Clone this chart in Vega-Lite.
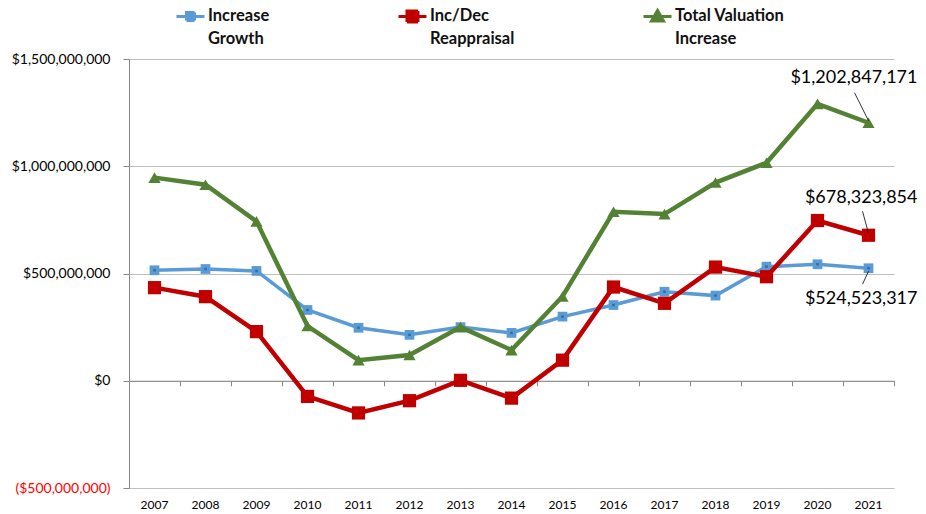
{
  "$schema": "https://vega.github.io/schema/vega-lite/v6.json",
  "width": 765,
  "height": 429,
  "autosize": {"type": "none"},
  "padding": {"left": 129, "top": 59, "right": 32, "bottom": 26},
  "background": "white",
  "config": {"view": {"stroke": null}, "font": "Lato"},
  "datasets": {
    "series": [
      {"year": "2007", "series": "Increase Growth", "value": 515000000},
      {"year": "2008", "series": "Increase Growth", "value": 521000000},
      {"year": "2009", "series": "Increase Growth", "value": 512000000},
      {"year": "2010", "series": "Increase Growth", "value": 330000000},
      {"year": "2011", "series": "Increase Growth", "value": 247000000},
      {"year": "2012", "series": "Increase Growth", "value": 214000000},
      {"year": "2013", "series": "Increase Growth", "value": 250000000},
      {"year": "2014", "series": "Increase Growth", "value": 223000000},
      {"year": "2015", "series": "Increase Growth", "value": 299000000},
      {"year": "2016", "series": "Increase Growth", "value": 353000000},
      {"year": "2017", "series": "Increase Growth", "value": 415000000},
      {"year": "2018", "series": "Increase Growth", "value": 397000000},
      {"year": "2019", "series": "Increase Growth", "value": 532000000},
      {"year": "2020", "series": "Increase Growth", "value": 543000000},
      {"year": "2021", "series": "Increase Growth", "value": 524523317},
      {"year": "2007", "series": "Inc/Dec Reappraisal", "value": 434000000},
      {"year": "2008", "series": "Inc/Dec Reappraisal", "value": 392000000},
      {"year": "2009", "series": "Inc/Dec Reappraisal", "value": 229000000},
      {"year": "2010", "series": "Inc/Dec Reappraisal", "value": -73000000},
      {"year": "2011", "series": "Inc/Dec Reappraisal", "value": -150000000},
      {"year": "2012", "series": "Inc/Dec Reappraisal", "value": -93000000},
      {"year": "2013", "series": "Inc/Dec Reappraisal", "value": 2000000},
      {"year": "2014", "series": "Inc/Dec Reappraisal", "value": -81000000},
      {"year": "2015", "series": "Inc/Dec Reappraisal", "value": 96000000},
      {"year": "2016", "series": "Inc/Dec Reappraisal", "value": 437000000},
      {"year": "2017", "series": "Inc/Dec Reappraisal", "value": 361000000},
      {"year": "2018", "series": "Inc/Dec Reappraisal", "value": 530000000},
      {"year": "2019", "series": "Inc/Dec Reappraisal", "value": 485000000},
      {"year": "2020", "series": "Inc/Dec Reappraisal", "value": 747000000},
      {"year": "2021", "series": "Inc/Dec Reappraisal", "value": 678323854},
      {"year": "2007", "series": "Total Valuation Increase", "value": 947000000},
      {"year": "2008", "series": "Total Valuation Increase", "value": 914000000},
      {"year": "2009", "series": "Total Valuation Increase", "value": 743000000},
      {"year": "2010", "series": "Total Valuation Increase", "value": 255000000},
      {"year": "2011", "series": "Total Valuation Increase", "value": 96000000},
      {"year": "2012", "series": "Total Valuation Increase", "value": 120000000},
      {"year": "2013", "series": "Total Valuation Increase", "value": 250000000},
      {"year": "2014", "series": "Total Valuation Increase", "value": 143000000},
      {"year": "2015", "series": "Total Valuation Increase", "value": 393000000},
      {"year": "2016", "series": "Total Valuation Increase", "value": 788000000},
      {"year": "2017", "series": "Total Valuation Increase", "value": 777000000},
      {"year": "2018", "series": "Total Valuation Increase", "value": 924000000},
      {"year": "2019", "series": "Total Valuation Increase", "value": 1016000000},
      {"year": "2020", "series": "Total Valuation Increase", "value": 1291000000},
      {"year": "2021", "series": "Total Valuation Increase", "value": 1202847171}
    ],
    "notes": [
      {"year": "2021", "series": "Total Valuation Increase", "value": 1202847171, "label": "$1,202,847,171"},
      {"year": "2021", "series": "Inc/Dec Reappraisal", "value": 678323854, "label": "$678,323,854"},
      {"year": "2021", "series": "Increase Growth", "value": 524523317, "label": "$524,523,317"}
    ]
  },
  "data": {"name": "series"},
  "resolve": {"axis": {"x": "independent"}},
  "layer": [
    {
      "transform": [{"filter": "datum.series === 'Increase Growth'"}],
      "mark": {"type": "line", "strokeWidth": 3.5},
      "encoding": {
        "x": {"field": "year", "type": "ordinal", "bandPosition": 0.5,
              "scale": {"type": "band", "paddingInner": 0, "paddingOuter": 0},
              "axis": {"orient": "bottom", "domain": false, "ticks": false, "tickSize": 0, "labelPadding": 11, "labelFontSize": 12, "labelFont": "Lato", "labelColor": "#000000", "labelAngle": 0, "title": null, "grid": false}},
        "y": {"field": "value", "type": "quantitative",
              "scale": {"domain": [-500000000, 1500000000], "nice": false, "zero": false},
              "axis": {"values": [-500000000, 0, 500000000, 1000000000, 1500000000],
                       "labelExpr": "datum.value < 0 ? '($' + format(-datum.value, ',') + ')' : '$' + format(datum.value, ',')",
                       "labelColor": {"condition": {"test": "datum.value < 0", "value": "#ff0000"}, "value": "#000000"},
                       "gridColor": "#bfbfbf", "domainColor": "#878787", "tickColor": "#878787", "tickSize": 6,
                       "labelPadding": 13, "labelFontSize": 14, "labelFont": "Lato", "title": null}},
        "color": {"field": "series", "type": "nominal",
                  "scale": {"domain": ["Increase Growth", "Inc/Dec Reappraisal", "Total Valuation Increase"], "range": ["#5b9bd5", "#c00000", "#548235"]},
                  "legend": {
                    "orient": "none", "legendX": 50, "legendY": -54, "direction": "horizontal", "columns": 3,
                    "columnPadding": 122, "title": null, "symbolSize": 400, "labelOffset": 6,
                    "labelFont": "Lato", "labelFontSize": 16.5, "labelFontWeight": "bold", "labelColor": "#111111", "labelBaseline": "top",
                    "labelExpr": "datum.label === 'Increase Growth' ? ['Increase', 'Growth'] : datum.label === 'Inc/Dec Reappraisal' ? ['Inc/Dec', 'Reappraisal'] : ['Total Valuation', 'Increase']",
                    "encode": {
                      "labels": {"update": {"dy": {"value": -9}, "lineHeight": {"value": 23}}},
                      "symbols": {"update": {
                        "shape": {"signal": "datum.value === 'Total Valuation Increase' ? 'M-1.4,0H1.4M0,-0.6L0.6,0.45L-0.6,0.45Z' : datum.value === 'Inc/Dec Reappraisal' ? 'M-1.4,0H1.4M-0.55,-0.55H0.55V0.55H-0.55Z' : 'M-1.4,0H1.4M-0.4,-0.4H0.4V0.4H-0.4Z'"},
                        "fill": {"signal": "datum.value === 'Total Valuation Increase' ? '#548235' : datum.value === 'Inc/Dec Reappraisal' ? '#c00000' : '#5b9bd5'"},
                        "stroke": {"signal": "datum.value === 'Total Valuation Increase' ? '#548235' : datum.value === 'Inc/Dec Reappraisal' ? '#c00000' : '#5b9bd5'"},
                        "strokeWidth": {"value": 3},
                        "opacity": {"value": 1},
                        "fillOpacity": {"value": 1},
                        "strokeDash": {"value": [1, 0]}
                      }}
                    }
                  }}
      }
    },
    {
      "transform": [{"filter": "datum.series === 'Increase Growth'"}],
      "mark": {"type": "square", "size": 95, "opacity": 1, "filled": true},
      "encoding": {
        "x": {"field": "year", "type": "ordinal", "bandPosition": 0.5, "axis": null},
        "y": {"field": "value", "type": "quantitative", "title": null},
        "color": {"field": "series", "type": "nominal"}
      }
    },
    {
      "transform": [{"filter": "datum.series === 'Increase Growth'"}],
      "mark": {"type": "square", "size": 6, "opacity": 1, "filled": true, "color": "#2f6aa3"},
      "encoding": {
        "x": {"field": "year", "type": "ordinal", "bandPosition": 0.5, "axis": null},
        "y": {"field": "value", "type": "quantitative", "title": null}
      }
    },
    {
      "transform": [{"filter": "datum.series === 'Inc/Dec Reappraisal'"}],
      "mark": {"type": "line", "strokeWidth": 4.5},
      "encoding": {
        "x": {"field": "year", "type": "ordinal", "bandPosition": 0.5,
              "axis": {"orient": "bottom", "offset": -107.25, "labels": false, "domainColor": "#878787", "tickColor": "#878787", "tickSize": 5, "tickBand": "extent", "title": null, "grid": false}},
        "y": {"field": "value", "type": "quantitative", "title": null},
        "color": {"field": "series", "type": "nominal"}
      }
    },
    {
      "transform": [{"filter": "datum.series === 'Inc/Dec Reappraisal'"}],
      "mark": {"type": "square", "size": 175, "opacity": 1, "filled": true},
      "encoding": {
        "x": {"field": "year", "type": "ordinal", "bandPosition": 0.5, "axis": null},
        "y": {"field": "value", "type": "quantitative", "title": null},
        "color": {"field": "series", "type": "nominal"}
      }
    },
    {
      "transform": [{"filter": "datum.series === 'Total Valuation Increase'"}],
      "mark": {"type": "line", "strokeWidth": 4.5},
      "encoding": {
        "x": {"field": "year", "type": "ordinal", "bandPosition": 0.5, "axis": null},
        "y": {"field": "value", "type": "quantitative", "title": null},
        "color": {"field": "series", "type": "nominal"}
      }
    },
    {
      "transform": [{"filter": "datum.series === 'Total Valuation Increase'"}],
      "mark": {"type": "point", "shape": "triangle-up", "size": 150, "opacity": 1, "filled": true},
      "encoding": {
        "x": {"field": "year", "type": "ordinal", "bandPosition": 0.5, "axis": null},
        "y": {"field": "value", "type": "quantitative", "title": null},
        "color": {"field": "series", "type": "nominal"}
      }
    },
    {
      "data": {"name": "notes"},
      "transform": [{"filter": "datum.series === 'Total Valuation Increase'"}],
      "layer": [
        {"mark": {"type": "rule", "color": "#000000", "strokeWidth": 0.8, "xOffset": -14, "yOffset": -30, "x2Offset": 0, "y2Offset": -2},
         "encoding": {"x": {"field": "year", "type": "ordinal", "bandPosition": 0.5, "axis": null}, "x2": {"field": "year"},
                      "y": {"field": "value", "type": "quantitative", "title": null}, "y2": {"field": "value"}}},
        {"mark": {"type": "text", "align": "right", "baseline": "middle", "dx": 49, "dy": -45, "fontSize": 18, "font": "Lato", "color": "#000000"},
         "encoding": {"x": {"field": "year", "type": "ordinal", "bandPosition": 0.5, "axis": null},
                      "y": {"field": "value", "type": "quantitative", "title": null}, "text": {"field": "label"}}}
      ]
    },
    {
      "data": {"name": "notes"},
      "transform": [{"filter": "datum.series === 'Inc/Dec Reappraisal'"}],
      "layer": [
        {"mark": {"type": "rule", "color": "#000000", "strokeWidth": 0.8, "xOffset": -6, "yOffset": -24, "x2Offset": 0, "y2Offset": -2},
         "encoding": {"x": {"field": "year", "type": "ordinal", "bandPosition": 0.5, "axis": null}, "x2": {"field": "year"},
                      "y": {"field": "value", "type": "quantitative", "title": null}, "y2": {"field": "value"}}},
        {"mark": {"type": "text", "align": "right", "baseline": "middle", "dx": 49, "dy": -37, "fontSize": 18, "font": "Lato", "color": "#000000"},
         "encoding": {"x": {"field": "year", "type": "ordinal", "bandPosition": 0.5, "axis": null},
                      "y": {"field": "value", "type": "quantitative", "title": null}, "text": {"field": "label"}}}
      ]
    },
    {
      "data": {"name": "notes"},
      "transform": [{"filter": "datum.series === 'Increase Growth'"}],
      "layer": [
        {"mark": {"type": "rule", "color": "#000000", "strokeWidth": 0.8, "xOffset": -6, "yOffset": 16, "x2Offset": 0, "y2Offset": 3},
         "encoding": {"x": {"field": "year", "type": "ordinal", "bandPosition": 0.5, "axis": null}, "x2": {"field": "year"},
                      "y": {"field": "value", "type": "quantitative", "title": null}, "y2": {"field": "value"}}},
        {"mark": {"type": "text", "align": "right", "baseline": "middle", "dx": 49, "dy": 31, "fontSize": 18, "font": "Lato", "color": "#000000"},
         "encoding": {"x": {"field": "year", "type": "ordinal", "bandPosition": 0.5, "axis": null},
                      "y": {"field": "value", "type": "quantitative", "title": null}, "text": {"field": "label"}}}
      ]
    }
  ]
}
